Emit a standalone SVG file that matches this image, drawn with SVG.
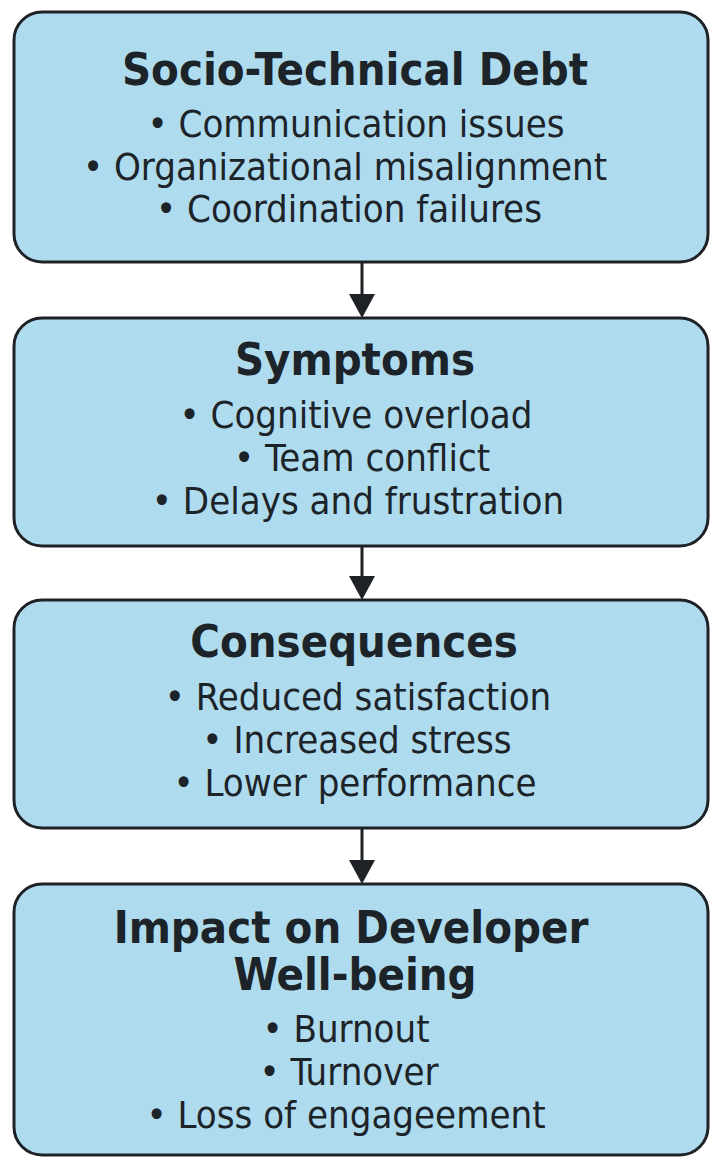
<svg xmlns="http://www.w3.org/2000/svg" width="720" height="1166" viewBox="0 0 720 1166">
<style>
.box{fill:#AEDCEE;stroke:#1e2226;stroke-width:3}
.t{font-family:"DejaVu Sans Condensed","DejaVu Sans",sans-serif;font-stretch:condensed;fill:#1c2329;text-anchor:middle}
.h{font-weight:bold;font-size:45px}
.b{font-size:38px}
.conn{stroke:#1e2226;stroke-width:3;fill:none}
.ah{fill:#1e2226}
</style>
<rect width="720" height="1166" fill="#ffffff"/>
<g id="connectors">
<line class="conn" x1="362" y1="262" x2="362" y2="295"/>
<polygon class="ah" points="349,294 375,294 362,318"/>
<line class="conn" x1="362" y1="546" x2="362" y2="577"/>
<polygon class="ah" points="349,576 375,576 362,600"/>
<line class="conn" x1="362" y1="828" x2="362" y2="861"/>
<polygon class="ah" points="349,860 375,860 362,884"/>
</g>
<g id="node1">
<rect class="box" x="14" y="12" width="694" height="250" rx="28"/>
<text class="t h" x="355" y="85" font-size="46">Socio-Technical Debt</text>
<text class="t b" x="356" y="137">• Communication issues</text>
<text class="t b" x="345" y="180">• Organizational misalignment</text>
<text class="t b" x="349" y="222">• Coordination failures</text>
</g>
<g id="node2">
<rect class="box" x="14" y="318" width="694" height="228" rx="28"/>
<text class="t h" x="355" y="375">Symptoms</text>
<text class="t b" x="356" y="428">• Cognitive overload</text>
<text class="t b" x="362" y="471">• Team conflict</text>
<text class="t b" x="358" y="514">• Delays and frustration</text>
</g>
<g id="node3">
<rect class="box" x="14" y="600" width="694" height="228" rx="28"/>
<text class="t h" x="354" y="657" font-size="46">Consequences</text>
<text class="t b" x="358" y="710">• Reduced satisfaction</text>
<text class="t b" x="357" y="753">• Increased stress</text>
<text class="t b" x="355" y="796">• Lower performance</text>
</g>
<g id="node4">
<rect class="box" x="14" y="884" width="694" height="271" rx="28"/>
<text class="t h" x="351" y="943">Impact on Developer</text>
<text class="t h" x="355" y="990">Well-being</text>
<text class="t b" x="346" y="1042">• Burnout</text>
<text class="t b" x="349" y="1085">• Turnover</text>
<text class="t b" x="346" y="1128" font-size="39">• Loss of engageement</text>
</g>
</svg>
